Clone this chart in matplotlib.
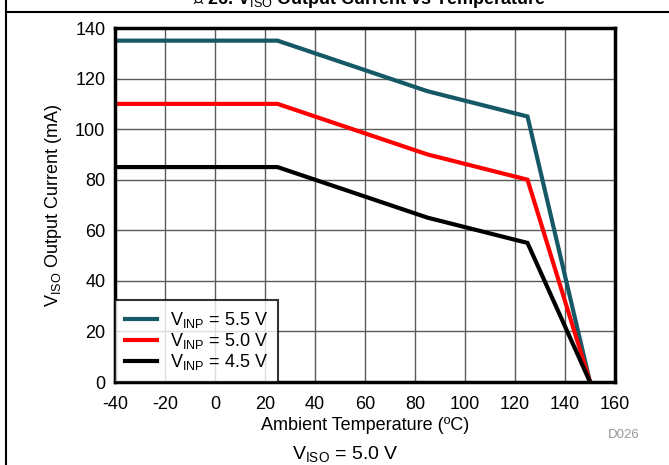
import matplotlib
matplotlib.use("Agg")
import matplotlib.pyplot as plt
from matplotlib.lines import Line2D

plt.rcParams['font.family'] = ['Liberation Sans', 'Noto Sans CJK SC', 'DejaVu Sans']
plt.rcParams['mathtext.fontset'] = 'custom'
plt.rcParams['mathtext.rm'] = 'Liberation Sans'
plt.rcParams['mathtext.it'] = 'Liberation Sans'
plt.rcParams['mathtext.bf'] = 'Liberation Sans:bold'
plt.rcParams['axes.unicode_minus'] = False

# Derating curves: ambient temperature (°C) vs V_ISO output current (mA)
temperature = [-40, 25, 85, 125, 150]
current_5v5 = [135, 135, 115, 105, 0]
current_5v0 = [110, 110, 90, 80, 0]
current_4v5 = [85, 85, 65, 55, 0]

series_labels = ['V$_{\\mathrm{INP}}$ = 5.5 V', 'V$_{\\mathrm{INP}}$ = 5.0 V', 'V$_{\\mathrm{INP}}$ = 4.5 V']
series_colors = ['#155866', '#ff0000', '#000000']

x_ticks = [-40, -20, 0, 20, 40, 60, 80, 100, 120, 140, 160]
y_ticks = [0, 20, 40, 60, 80, 100, 120, 140]

W, H = 669, 465
fig = plt.figure(figsize=(W / 100, H / 100), dpi=100)
ax = fig.add_axes([115 / W, 1 - 382 / H, 500 / W, 354 / H])

for y, lab, col in zip([current_5v5, current_5v0, current_4v5], series_labels, series_colors):
    ax.plot(temperature, y, color=col, lw=3, label=lab, solid_joinstyle='miter', zorder=3)

ax.set_xlim(-40, 160)
ax.set_ylim(0, 140)
ax.set_xticks(x_ticks)
ax.set_yticks(y_ticks)
ax.tick_params(axis='x', length=0, labelsize=13, pad=10)
ax.tick_params(axis='y', length=0, labelsize=13, pad=7)
ax.grid(True, color='#5a5a5a', lw=1)
ax.set_axisbelow(True)
for s in ax.spines.values():
    s.set_linewidth(2.5)
    s.set_color('black')
    s.set_zorder(4)

ax.set_xlabel('Ambient Temperature (ºC)', fontsize=13, labelpad=3)
ax.set_ylabel('V$_{\\mathrm{ISO}}$ Output Current (mA)', fontsize=13, labelpad=8)

leg = ax.legend(loc='lower left', fontsize=13, frameon=True, fancybox=False,
                handlelength=1.8, handletextpad=0.7, borderpad=0.55, labelspacing=0.05,
                borderaxespad=0.0)
leg.get_frame().set_edgecolor('black')
leg.get_frame().set_linewidth(1.5)
leg.set_zorder(5)

fig.text(624 / W, 1 - 438 / H, 'D026', color='#999999', fontsize=9.5, ha='center', va='baseline')
fig.text(345 / W, 1 - 459 / H, 'V$_{\\mathrm{ISO}}$ = 5.0 V', fontsize=14, ha='center', va='baseline')

# Figure caption (mostly above the visible area) and frame rules
fig.text(370 / W, 1 - 4 / H, '图 26. V$_{\\mathrm{ISO}}$ Output Current vs Temperature',
         fontsize=13, fontweight='bold', ha='center', va='baseline')
fig.add_artist(Line2D([6 / W, 1], [1 - 12 / H, 1 - 12 / H], transform=fig.transFigure,
                      color='black', lw=1.5))
fig.add_artist(Line2D([6 / W, 6 / W], [0, 1], transform=fig.transFigure,
                      color='black', lw=1.5))

fig.savefig('out.png', dpi=100)
